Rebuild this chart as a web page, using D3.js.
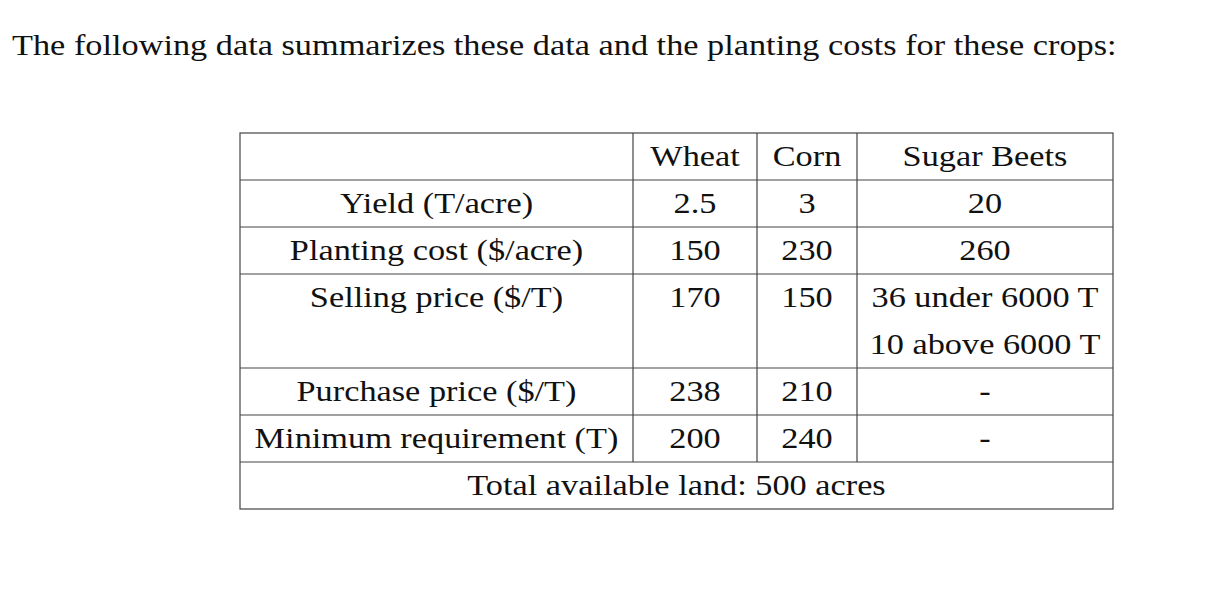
<!DOCTYPE html>
<html><head><meta charset="utf-8">
<script src="https://cdn.jsdelivr.net/npm/d3@7"></script>
<style>body{margin:0;background:#fff}</style>
</head><body><div id="chart"></div>
<script>
const title = "The following data summarizes these data and the planting costs for these crops:";
const columns = ["", "Wheat", "Corn", "Sugar Beets"];
const rowLabels = ["Yield (T/acre)", "Planting cost ($/acre)", "Selling price ($/T)", "Purchase price ($/T)", "Minimum requirement (T)"];
const wheat = ["2.5", "150", "170", "238", "200"];
const corn = ["3", "230", "150", "210", "240"];
const beets = [["20"], ["260"], ["36 under 6000 T", "10 above 6000 T"], ["-"], ["-"]];
const footer = "Total available land: 500 acres";

const W = 1222, H = 590, lineH = 47;
const svg = d3.select("#chart").append("svg").attr("width", W).attr("height", H)
  .style("font-family", "'Liberation Serif', 'DejaVu Serif', serif").style("font-size", "29px");

// widen glyphs to match the wider Computer Modern look of the original
const t = svg.append("text").attr("x", 12).attr("y", 55).attr("fill", "#111").text(title);
const k = 1105 / t.node().getComputedTextLength();
t.attr("transform", `translate(12,55) scale(${k},1)`).attr("x", 0).attr("y", 0);

const colEdges = [240, 633, 757, 857, 1113];
const x0 = colEdges[0], x1 = colEdges[colEdges.length - 1];
const colMid = i => (colEdges[i] + colEdges[i + 1]) / 2;

const rowLines = [1].concat(beets.map(b => b.length), [1]);
const rowTops = [133];
rowLines.forEach(n => rowTops.push(rowTops[rowTops.length - 1] + n * lineH));
const yTop = rowTops[0], yBot = rowTops[rowTops.length - 1];

const g = svg.append("g").attr("stroke", "#444").attr("stroke-width", 1.2);
g.append("rect").attr("x", x0).attr("y", yTop).attr("width", x1 - x0).attr("height", yBot - yTop).attr("fill", "none");
rowTops.slice(1, -1).forEach(y => g.append("line").attr("x1", x0).attr("x2", x1).attr("y1", y).attr("y2", y));
colEdges.slice(1, -1).forEach(x => g.append("line").attr("x1", x).attr("x2", x).attr("y1", yTop).attr("y2", rowTops[rowTops.length - 2]));

const txt = (x, y, s) => svg.append("text").attr("transform", `translate(${x},${y}) scale(${k},1)`)
  .attr("text-anchor", "middle").attr("fill", "#111").text(s);
const base = 33;
columns.forEach((c, i) => txt(colMid(i), yTop + base, c));
rowLabels.forEach((lab, r) => {
  const y = rowTops[r + 1] + base;
  txt(colMid(0), y, lab);
  txt(colMid(1), y, wheat[r]);
  txt(colMid(2), y, corn[r]);
  beets[r].forEach((s, j) => txt(colMid(3), y + j * lineH, s));
});
txt((x0 + x1) / 2, rowTops[rowTops.length - 2] + base, footer);
</script></body></html>
